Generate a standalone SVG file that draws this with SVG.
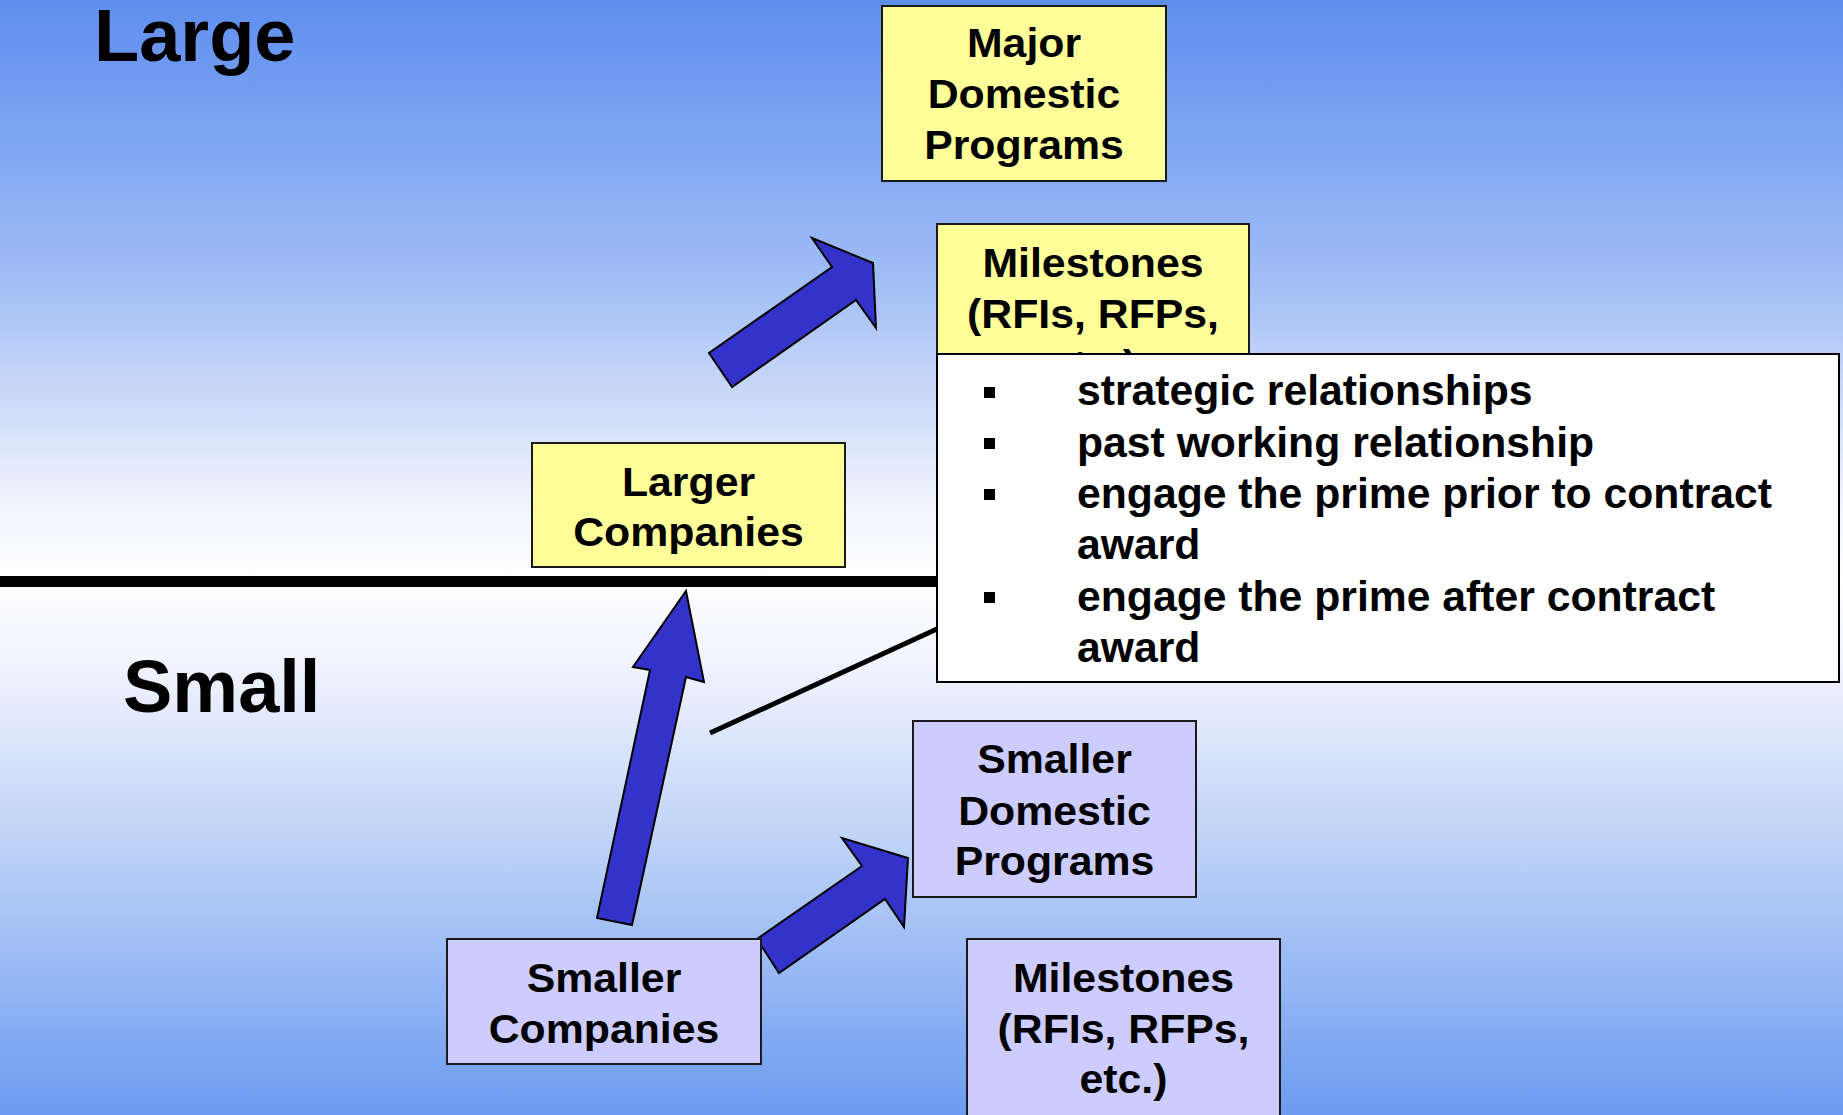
<svg xmlns="http://www.w3.org/2000/svg" width="1843" height="1115" viewBox="0 0 1843 1115">
<defs>
<linearGradient id="bg" x1="0" y1="0" x2="0" y2="1">
<stop offset="0" stop-color="#5E8EEE"/>
<stop offset="0.25" stop-color="#A0BDF5"/>
<stop offset="0.46" stop-color="#F4F6FE"/>
<stop offset="0.52" stop-color="#FFFFFF"/>
<stop offset="0.59" stop-color="#F2F4FE"/>
<stop offset="0.75" stop-color="#C0D4F8"/>
<stop offset="1" stop-color="#6C9BF0"/>
</linearGradient>
<style>
.t{font-family:"Liberation Sans",Arial,Helvetica,sans-serif;font-weight:bold;fill:#000}
.bt{font-size:40px;text-anchor:middle}
.lt{font-size:42.7px}
.big{font-size:74px}
.yb{fill:#FFFF99;stroke:#1a1a1a;stroke-width:2}
.pb{fill:#CCCCFF;stroke:#1a1a1a;stroke-width:2}
.arr{fill:#3333CC;stroke:#000;stroke-width:2;stroke-linejoin:miter}
.bul{fill:#000}
</style>
</defs>
<rect x="0" y="0" width="1843" height="1115" fill="url(#bg)"/>
<rect x="0" y="576" width="945" height="11" fill="#000"/>
<text class="t big" x="94" y="61">Large</text>
<text class="t big" x="123" y="712">Small</text>
<g id="connectors">
<line x1="710" y1="733" x2="950" y2="623" stroke="#000" stroke-width="5"/>
<polygon class="arr" points="732,387 709,353 832,267 812,238 873,263 876,328 856,300"/>
<polygon class="arr" points="686,591 704,682 686,677 632,925 597,918 650,670 633,667"/>
<polygon class="arr" points="757,939 779,973 885,899 904,927 908,858 842,838 862,866"/>
</g>
<g id="major-domestic">
<rect class="yb" x="882" y="6" width="284" height="175"/>
<text class="t bt" transform="translate(1024 0) scale(1.07 1)"><tspan x="0" y="57.5">Major</tspan><tspan x="0" y="108.5">Domestic</tspan><tspan x="0" y="159.5">Programs</tspan></text>
</g>
<g id="milestones-large">
<rect class="yb" x="937" y="224" width="312" height="180"/>
<text class="t bt" transform="translate(1093 0) scale(1.07 1)"><tspan x="0" y="277">Milestones</tspan><tspan x="0" y="328">(RFIs, RFPs,</tspan><tspan x="0" y="379">etc.)</tspan></text>
</g>
<g id="larger-companies">
<rect class="yb" x="532" y="443" width="313" height="124"/>
<text class="t bt" transform="translate(688.5 0) scale(1.07 1)"><tspan x="0" y="496">Larger</tspan><tspan x="0" y="546">Companies</tspan></text>
</g>
<g id="smaller-companies">
<rect class="pb" x="447" y="939" width="314" height="125"/>
<text class="t bt" transform="translate(604 0) scale(1.07 1)"><tspan x="0" y="992">Smaller</tspan><tspan x="0" y="1043">Companies</tspan></text>
</g>
<g id="smaller-domestic">
<rect class="pb" x="913" y="721" width="283" height="176"/>
<text class="t bt" transform="translate(1054.5 0) scale(1.07 1)"><tspan x="0" y="773">Smaller</tspan><tspan x="0" y="825">Domestic</tspan><tspan x="0" y="875">Programs</tspan></text>
</g>
<g id="milestones-small">
<rect class="pb" x="967" y="939" width="313" height="190"/>
<text class="t bt" transform="translate(1123.5 0) scale(1.07 1)"><tspan x="0" y="992">Milestones</tspan><tspan x="0" y="1043">(RFIs, RFPs,</tspan><tspan x="0" y="1093">etc.)</tspan></text>
</g>
<g id="factors">
<rect x="937" y="354" width="902" height="328" fill="#FFFFFF" stroke="#000" stroke-width="2"/>
<rect class="bul" x="984" y="387" width="11" height="11"/>
<rect class="bul" x="984" y="438" width="11" height="11"/>
<rect class="bul" x="984" y="489" width="11" height="11"/>
<rect class="bul" x="984" y="592" width="11" height="11"/>
<text class="t lt" x="1077" y="405">strategic relationships</text>
<text class="t lt" x="1077" y="456.5">past working relationship</text>
<text class="t lt" x="1077" y="508">engage the prime prior to contract</text>
<text class="t lt" x="1077" y="559">award</text>
<text class="t lt" x="1077" y="610.5">engage the prime after contract</text>
<text class="t lt" x="1077" y="662">award</text>
</g>
</svg>
